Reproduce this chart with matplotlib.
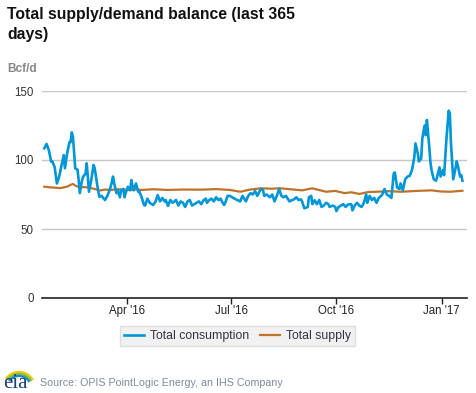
import matplotlib
matplotlib.use("Agg")
import matplotlib.pyplot as plt
import numpy as np
from matplotlib.patches import Arc

plt.rcParams['font.family'] = ['Liberation Sans', 'DejaVu Sans']

start = np.datetime64('2016-01-20')

# consumption: day offset from start, value (Bcf/d)
cons_days = [0, 2, 4, 6, 7, 9, 11, 13, 15, 17, 18, 20, 22, 23, 24, 25, 27, 29, 30, 31,
             33, 34, 36, 37, 38, 39, 41, 43, 44, 46, 48, 50, 51, 53, 55, 57, 59, 60, 61, 63,
             64, 66, 67, 69, 70, 71, 73, 75, 76, 77, 78, 80, 82, 83, 85, 87, 88, 90, 92, 95,
             97, 99, 101, 103, 105, 106, 108, 110, 112, 115, 117, 119, 121, 123, 125, 127, 129, 131, 133, 135,
             137, 139, 141, 142, 144, 146, 148, 150, 152, 154, 155, 157, 158, 160, 162, 166, 171, 173, 176, 178,
             180, 182, 184, 186, 189, 191, 192, 194, 197, 199, 201, 203, 205, 207, 209, 211, 214, 216, 218, 220,
             222, 224, 225, 227, 230, 231, 233, 234, 236, 238, 240, 242, 244, 246, 248, 249, 252, 254, 255, 257,
             259, 261, 263, 265, 268, 269, 271, 273, 275, 277, 279, 281, 282, 284, 286, 288, 290, 292, 294, 295,
             297, 299, 301, 303, 305, 306, 308, 310, 311, 313, 315, 317, 319, 321, 323, 324, 326, 327, 329, 330,
             332, 333, 334, 336, 337, 338, 340, 342, 343, 345, 346, 348, 349, 351, 353, 354, 355, 357, 359, 360,
             361, 363, 364, 365]
cons_vals = [108.5, 111.6, 107, 98.8, 99, 95, 83, 88, 96, 103.6, 94, 105, 113, 113, 120, 117, 94, 93, 85.5, 76,
             85.5, 88, 90, 97.6, 88, 77, 85.5, 96.4, 94, 83, 73.4, 74, 73, 71, 74, 78, 84, 88, 83, 76,
             78, 73, 78, 79, 73, 76, 80.6, 78, 85.5, 81, 78, 83, 77, 77, 73, 67.4, 67, 72, 69, 67.4,
             69.6, 74.6, 70, 72.5, 70, 71, 66.7, 71, 69, 71, 67, 70, 69, 66, 70, 71, 67, 68, 69, 70,
             68, 70.8, 72, 69, 71, 72, 70, 73, 71, 72, 70, 67.4, 69, 74, 74, 72, 70, 74, 70, 74,
             76, 75, 77.5, 74, 79, 78, 74, 75, 73, 75, 70, 74, 79, 74, 73, 74, 70, 70.8, 71.5, 73,
             71, 71.5, 70, 65, 66, 73, 74, 68, 70.8, 68, 71, 66, 67, 69, 68, 66, 67, 66, 63, 66,
             67, 68, 66, 67.7, 68, 63.5, 67, 69, 67, 66, 69, 75, 69, 74, 71, 72.5, 69, 72.5, 74, 75,
             79, 75, 74, 72.5, 90, 91, 80, 79, 83, 78, 86, 88, 88.5, 92.7, 102, 112, 105, 99, 101, 115.7,
             125, 118, 129, 110, 99, 92.7, 86, 85, 88, 94.7, 88, 92.7, 89, 114.5, 135.7, 134, 112, 86, 94, 99,
             96, 88, 89, 85]

# supply
sup_days = [0, 5, 9, 14, 20, 23, 25, 27, 31, 35, 39, 44, 48, 53, 57, 65, 73, 80, 85, 95,
            108, 120, 137, 150, 162, 171, 180, 189, 198, 206, 215, 225, 234, 240, 246, 254, 262, 268, 275, 283,
            290, 300, 312, 325, 338, 346, 355, 360, 365]
sup_vals = [80.7, 80.2, 80, 79.6, 80.7, 82, 82.6, 81.5, 80, 80.4, 80, 79, 77.8, 78.6, 78.3, 78.8, 78.3, 78.6, 78.3, 78.8,
            78.3, 78.6, 78.5, 78.9, 78.3, 77, 78.6, 79.5, 79.2, 79.5, 78.8, 78, 79.5, 78.2, 77, 77.6, 76, 76.6, 75.4, 76.8,
            77, 77.4, 77, 77.6, 78, 77.2, 77, 77.4, 77.7]

yticks = [0, 50, 100, 150]
xtick_dates = ['2016-04-01', '2016-07-01', '2016-10-01', '2017-01-01']
xtick_labels = ["Apr '16", "Jul '16", "Oct '16", "Jan '17"]

cons_x = start + np.array(cons_days).astype('timedelta64[D]')
sup_x = start + np.array(sup_days).astype('timedelta64[D]')

W, H = 477, 393
fig = plt.figure(figsize=(W / 100, H / 100), dpi=100)
ax = fig.add_axes([42 / W, 1 - 298 / H, (467 - 42) / W, (298 - 91) / H])

blue = '#0096d7'
orange = '#bd732a'
ax.plot(cons_x, cons_vals, color=blue, lw=1.9, label='Total consumption', zorder=3)
ax.plot(sup_x, sup_vals, color=orange, lw=1.6, label='Total supply', zorder=2)

ax.set_ylim(0, 150)
ax.set_xlim(start - np.timedelta64(2, 'D'), start + np.timedelta64(369, 'D'))
ax.set_yticks(yticks)
ax.set_yticklabels([str(t) for t in yticks])
ax.set_xticks([np.datetime64(d) for d in xtick_dates])
ax.set_xticklabels(xtick_labels)
for t in yticks[1:]:
    ax.axhline(t, color='#c6c6c6', lw=1, zorder=1)

for s in ['top', 'right', 'left']:
    ax.spines[s].set_visible(False)
ax.spines['bottom'].set_color('#222222')
ax.spines['bottom'].set_linewidth(1.2)
ax.tick_params(axis='y', length=0, pad=6, labelsize=8.3, labelcolor='#333333')
ax.tick_params(axis='x', length=4, width=1, color='#222222', pad=1, labelsize=8.3, labelcolor='#222222')

leg = ax.legend(loc='upper center', bbox_to_anchor=(0.46, -0.105), ncol=2, frameon=True,
                fontsize=8.8, handlelength=1.6, handletextpad=0.5, columnspacing=0.9,
                borderpad=0.35, fancybox=False)
leg.get_frame().set_facecolor('#eeeeee')
leg.get_frame().set_edgecolor('#d8d8d8')
for t in leg.get_texts():
    t.set_color('#333344')

fig.text(7 / W, 1 - 7 / H, 'Total supply/demand balance (last 365\ndays)', fontsize=11.3,
         fontweight='bold', va='top', ha='left', linespacing=1.4, color='#111111')
fig.text(7 / W, 1 - 69 / H, 'Bcf/d', fontsize=8.6, fontweight='bold', va='center', ha='left',
         color='#888888')
fig.text(40 / W, 1 - 383 / H, 'Source: OPIS PointLogic Energy, an IHS Company', fontsize=7.7,
         va='center', ha='left', color='#7b8b9e')

# eia logo
fig.text(3 / W, 1 - 384 / H, 'eia', fontsize=15, family='Liberation Serif', va='center', ha='left',
         color='#1b3e73')
lax = fig.add_axes([0, 0, 1, 1], facecolor='none')
lax.set_xlim(0, W)
lax.set_ylim(H, 0)
lax.axis('off')
for r, c in [(16, '#f2c300'), (14, '#7bbf3a'), (12, '#1f86c8')]:
    lax.add_patch(Arc((19, 388), 2 * r, 2 * r * 1.0, theta1=215, theta2=330, color=c, lw=1.6))

fig.savefig('out.png', dpi=100)
